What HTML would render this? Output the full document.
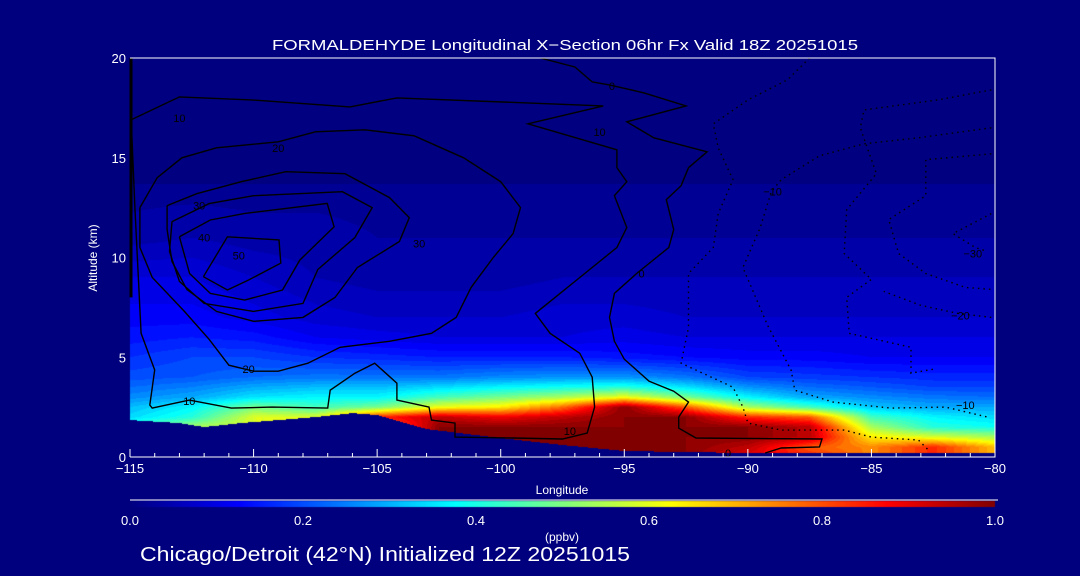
<!DOCTYPE html>
<html><head><meta charset="utf-8">
<style>
html,body{margin:0;padding:0;background:#00007f;}
#wrap{position:relative;width:1080px;height:576px;background:#00007f;overflow:hidden;font-family:"Liberation Sans",sans-serif;}
canvas,svg{position:absolute;left:0;top:0;}
</style></head>
<body>
<div id="wrap">
<canvas id="cv" width="1080" height="576"></canvas>
<svg id="sv" width="1080" height="576"></svg>
</div>
<script>
// ---- data ----
const gridLons = [-115,-112.5,-110,-107.5,-105,-102.5,-100,-97.5,-95,-92.5,-90,-87.5,-85,-82.5,-80];
const gridAlts = [0,0.5,1,1.5,2,2.5,3,3.5,4,5,6,7,9,11,13.5,14,20];
const row0   = [0.5,0.5,0.5,0.5,0.5,0.8,1,1,1,1,0.9,0.85,0.75,0.85,0.7];
const row0_5 = [0.5,0.5,0.5,0.5,0.5,0.9,1,1,1,1,0.95,0.8,0.75,0.85,0.7];
const row1   = [0.5,0.5,0.5,0.5,0.6,1,1,1,1,1,1,0.95,0.65,0.6,0.55];
const row1_5 = [0.45,0.55,0.6,0.6,0.7,1,1,1,1,1,1,0.95,0.55,0.42,0.4];
const row2   = [0.35,0.42,0.6,0.6,0.85,0.95,0.9,0.95,1,1,0.85,0.8,0.45,0.38,0.35];
const row2_5 = [0.32,0.38,0.5,0.45,0.5,0.62,0.65,0.78,1,0.8,0.55,0.45,0.33,0.3,0.3];
const row3   = [0.27,0.3,0.36,0.38,0.38,0.45,0.5,0.55,0.62,0.5,0.38,0.3,0.27,0.25,0.24];
const row3_5 = [0.24,0.26,0.3,0.32,0.32,0.35,0.38,0.4,0.42,0.36,0.28,0.24,0.22,0.2,0.2];
const row4   = [0.21,0.22,0.24,0.25,0.25,0.25,0.27,0.28,0.28,0.25,0.2,0.19,0.18,0.17,0.17];
const row5   = [0.18,0.2,0.2,0.18,0.17,0.16,0.16,0.16,0.15,0.14,0.13,0.13,0.12,0.12,0.12];
const row6   = [0.15,0.16,0.15,0.12,0.11,0.1,0.1,0.1,0.11,0.1,0.1,0.1,0.1,0.1,0.1];
const row7   = [0.13,0.13,0.11,0.09,0.08,0.08,0.08,0.09,0.09,0.08,0.08,0.08,0.08,0.08,0.08];
const row9   = [0.1,0.1,0.08,0.06,0.05,0.05,0.05,0.06,0.06,0.06,0.06,0.06,0.06,0.06,0.06];
const row11  = [0.05,0.06,0.05,0.05,0.04,0.04,0.04,0.04,0.04,0.04,0.04,0.04,0.04,0.04,0.04];
const row13_5= [0.03,0.03,0.03,0.03,0.03,0.03,0.03,0.03,0.03,0.03,0.03,0.03,0.03,0.03,0.03];
const row14  = [0,0,0,0,0,0,0,0,0,0,0,0,0,0,0];
const row20  = [0,0,0,0,0,0,0,0,0,0,0,0,0,0,0];
const gridRows = [row0,row0_5,row1,row1_5,row2,row2_5,row3,row3_5,row4,row5,row6,row7,row9,row11,row13_5,row14,row20];

const terrainLons = [-115,-113,-112,-110.5,-107.5,-106,-105,-103,-100,-97.5,-95,-90,-80];
const terrainAlts = [1.85,1.7,1.5,1.7,2.0,2.2,2.1,1.4,0.95,0.6,0.3,0.2,0.2];

const xTicks = [-115,-110,-105,-100,-95,-90,-85,-80];
const xTickLabels = ["\u2212115","\u2212110","\u2212105","\u2212100","\u221295","\u221290","\u221285","\u221280"];
const yTicks = [0,5,10,15,20];
const yTickLabels = ["0","5","10","15","20"];
const cbTicks = [0,0.2,0.4,0.6,0.8,1.0];
const cbTickLabels = ["0.0","0.2","0.4","0.6","0.8","1.0"];

const contour50 = [[-112.03,9.04],[-111.06,11.04],[-108.97,10.88],[-108.9,9.72],[-110.2,8.87],[-111.06,8.37],[-112.03,9.04]];
const contour40 = [[-113.0,11.04],[-111.75,11.88],[-110.36,12.21],[-107.02,12.71],[-106.74,11.54],[-108.13,9.87],[-108.83,8.37],[-110.36,7.87],[-111.75,8.2],[-112.59,9.2],[-113.0,11.04]];
const contour35 = [[-113.3,11.8],[-111.8,12.7],[-110.0,13.1],[-106.4,13.3],[-105.2,12.5],[-105.9,11.0],[-107.4,9.4],[-108.0,7.7],[-110.0,7.3],[-112.0,7.7],[-113.0,8.8],[-113.4,10.3],[-113.3,11.8]];
const contour30 = [[-113.5,12.6],[-112.3,13.2],[-110.5,13.8],[-108.7,14.3],[-106.3,14.2],[-104.5,13.0],[-103.7,12.0],[-104.1,10.8],[-105.8,9.5],[-106.7,8.0],[-108,7.0],[-110,6.8],[-111.5,7.3],[-112.7,8.4],[-113.3,9.8],[-113.5,11.4],[-113.5,12.6]];
const contour20 = [[-114.6,12.5],[-113.9,14.0],[-112.9,15.0],[-111.5,15.5],[-109.0,15.8],[-107.5,16.3],[-105.5,16.4],[-103.5,16.1],[-101.5,15.0],[-100.0,13.8],[-99.2,12.5],[-99.5,11.2],[-100.3,10.0],[-101.2,8.5],[-101.8,7.0],[-102.8,6.2],[-104.5,5.8],[-106.5,5.5],[-107.8,4.7],[-109.0,4.3],[-110.0,4.3],[-111.0,4.6],[-111.8,5.9],[-112.8,7.3],[-114.1,9.0],[-114.6,10.5],[-114.6,12.5]];
const contour10 = [[-114.95,16.9],[-113.0,18.05],[-110.1,17.9],[-106.1,17.55],[-104.2,18.0],[-95.85,17.6],[-98.9,16.7],[-95.3,15.4],[-95.3,14.5],[-94.9,13.8],[-95.4,13.1],[-94.9,11.5],[-95.3,10.5],[-96.5,9.3],[-98.6,7.2],[-98.0,6.2],[-96.8,5.2],[-96.3,4.0],[-96.2,2.5],[-96.5,1.2],[-97.5,0.9],[-99.5,0.95],[-101.85,1.0],[-101.85,1.7],[-102.8,1.85],[-102.9,2.5],[-104.2,2.85],[-104.2,3.7],[-105.1,4.7],[-105.9,4.2],[-106.9,3.35],[-107.0,2.45],[-109.25,2.5],[-110.9,2.45],[-112.6,2.85],[-114.1,2.45],[-114.2,2.6],[-114.0,4.36],[-114.55,6.2],[-114.8,12.5],[-114.95,16.9]];
const contour0 = [[-98.4,20],[-97.0,19.55],[-96.3,18.8],[-95.6,18.65],[-94.2,18.25],[-92.5,17.6],[-94.9,16.8],[-93.8,16.0],[-91.65,15.3],[-92.4,14.5],[-92.7,13.6],[-93.3,12.9],[-93.0,11.4],[-93.2,10.5],[-94.5,9.2],[-95.4,8.2],[-95.6,7.0],[-95.4,5.8],[-95.0,4.9],[-94.0,3.8],[-93.0,3.3],[-92.4,2.75],[-92.8,2.0],[-92.8,1.45],[-92.1,0.95],[-87.0,0.9],[-87.1,0.5],[-88.65,0.45],[-89.3,0.2]];
const dottedA = [[-87.5,20],[-88.4,18.9],[-90.0,17.9],[-91.4,16.7],[-91.2,15.5],[-90.6,13.9],[-91.2,12.2],[-91.4,10.5],[-92.4,9.2],[-92.4,6.5],[-92.7,4.7],[-90.6,3.5],[-90.2,2.5],[-90.0,1.7],[-88.65,1.35],[-86.1,1.35],[-85.0,1.0],[-83.1,0.85],[-82.7,0.35]];
const dottedB = [[-80.15,16.5],[-83.1,16.0],[-85.3,15.7],[-87.1,15.1],[-88.65,13.9],[-89.05,13.3],[-89.5,11.5],[-90.2,9.5],[-89.2,6.6],[-88.25,4.35],[-88.1,3.35],[-86.55,2.75],[-84.2,2.45],[-82.0,2.5],[-80.3,2.0]];
const dottedC = [[-80.15,18.4],[-82.3,17.9],[-85.3,17.4],[-85.45,16.5],[-84.8,14.2],[-86.0,12.4],[-86.1,10.2],[-85.0,8.9],[-86.0,8.0],[-85.9,6.2],[-83.4,5.5],[-83.4,4.2],[-82.5,4.4]];
const dottedD = [[-80.15,15.2],[-82.8,14.9],[-82.8,13.1],[-84.3,11.9],[-83.9,10.2],[-82.8,9.2],[-81.2,8.5],[-80.15,8.4]];
const dottedE = [[-80.15,12.2],[-81.7,11.2],[-80.8,10.5],[-80.3,10.3]];
const dottedF = [[-80.15,7.0],[-81.5,7.2],[-83.0,7.6],[-84.5,8.3]];

const contourLabels = [["50",-110.6,10.1],["40",-112.0,11.0],["30",-112.2,12.6],["30",-103.3,10.7],["20",-109.0,15.5],["20",-110.2,4.4],["10",-113.0,17.0],["10",-96.0,16.3],["10",-112.6,2.8],["10",-97.2,1.3],["0",-95.5,18.6],["0",-94.3,9.2],["0",-90.8,0.2],["\u221210",-89.0,13.3],["\u221210",-81.2,2.6],["\u221220",-81.4,7.1],["\u221230",-80.9,10.2]];

// ---- axes ----
const PL=130, PR=995, PT=58, PB=457;
const LON0=-115, LON1=-80, ALT0=0, ALT1=20;
function xs(lon){return PL+(lon-LON0)/(LON1-LON0)*(PR-PL);}
function ys(alt){return PB-(alt-ALT0)/(ALT1-ALT0)*(PB-PT);}
function cbx(v){return 130+v*(995-130);}

function jet(v){
  const c=t=>Math.max(0,Math.min(1,t));
  return [c(1.5-Math.abs(4*v-3))*255, c(1.5-Math.abs(4*v-2))*255, c(1.5-Math.abs(4*v-1))*255];
}
function interp1(xa,ya,x){
  if(x<=xa[0])return ya[0];
  for(let i=0;i<xa.length-1;i++){ if(x<=xa[i+1]){const t=(x-xa[i])/(xa[i+1]-xa[i]);return ya[i]+t*(ya[i+1]-ya[i]);} }
  return ya[ya.length-1];
}
function findIdx(arr,v){
  for(let i=0;i<arr.length-1;i++){ if(v<=arr[i+1]) return [i,(v-arr[i])/(arr[i+1]-arr[i])]; }
  return [arr.length-2,1];
}
function field(lon,alt){
  const [ci,ct]=findIdx(gridLons,lon), [ri,rt]=findIdx(gridAlts,alt);
  const a=gridRows[ri][ci], b=gridRows[ri][ci+1], c=gridRows[ri+1][ci], d=gridRows[ri+1][ci+1];
  return (a*(1-ct)+b*ct)*(1-rt)+(c*(1-ct)+d*ct)*rt;
}

// ---- heatmap ----
const cv=document.getElementById('cv'), ctx=cv.getContext('2d');
ctx.fillStyle='#00007f'; ctx.fillRect(0,0,1080,576);
const img=ctx.getImageData(PL,PT,PR-PL,PB-PT);
for(let py=0;py<PB-PT;py++){
  const alt=ALT1-(py+0.5)/(PB-PT)*(ALT1-ALT0);
  for(let px=0;px<PR-PL;px++){
    const lon=LON0+(px+0.5)/(PR-PL)*(LON1-LON0);
    let v=0;
    if(alt>interp1(terrainLons,terrainAlts,lon)){ v=Math.floor(field(lon,alt)*50)/50; }
    const col=jet(Math.min(1,Math.max(0,v)));
    const k=(py*(PR-PL)+px)*4;
    img.data[k]=col[0];img.data[k+1]=col[1];img.data[k+2]=col[2];img.data[k+3]=255;
  }
}
ctx.putImageData(img,PL,PT);
// colorbar
for(let x=130;x<995;x++){
  const col=jet((x-130)/(995-130));
  ctx.fillStyle='rgb('+col.map(Math.round).join(',')+')';
  ctx.fillRect(x,501,1,6);
}

// ---- svg overlay ----
const NS='http://www.w3.org/2000/svg', sv=document.getElementById('sv');
function mk(tag,attrs,parent){const e=document.createElementNS(NS,tag);for(const k in attrs)e.setAttribute(k,attrs[k]);(parent||sv).appendChild(e);return e;}
function txt(s,x,y,attrs,name){const t=mk('text',Object.assign({x:x,y:y,fill:'#fff','font-family':'Liberation Sans, sans-serif'},attrs));t.textContent=s;


return t;}

const contourGroup=mk('g',{});


const solids=[contour50,contour40,contour35,contour30,contour20,contour10,contour0];
const dotted=[dottedA,dottedB,dottedC,dottedD,dottedE,dottedF];
solids.forEach((c,i)=>{
  const p=mk('polyline',{points:c.map(q=>xs(q[0]).toFixed(1)+','+ys(q[1]).toFixed(1)).join(' '),fill:'none',stroke:'#000','stroke-width':1.4},contourGroup);
  
  
});
dotted.forEach((c,i)=>{
  const p=mk('polyline',{points:c.map(q=>xs(q[0]).toFixed(1)+','+ys(q[1]).toFixed(1)).join(' '),fill:'none',stroke:'#000','stroke-width':1.4,'stroke-dasharray':'1.5,4'},contourGroup);
  
  
});
contourLabels.forEach(l=>{
  const t=mk('text',{x:xs(l[1]),y:ys(l[2])+4,fill:'#000','font-size':11,'font-family':'Liberation Sans, sans-serif','text-anchor':'middle'},contourGroup);
  t.textContent=l[0];
  
  
});
const edge=mk('line',{x1:PL+1,y1:ys(20),x2:PL+1,y2:ys(8),stroke:'#000','stroke-width':3});



// frame
const frame=mk('path',{d:`M${PL},${PT}H${PR}V${PB}H${PL}`,fill:'none',stroke:'#fff','stroke-width':1});


for(let lon=-115;lon<=-80;lon++){
  const major=(lon%5===0);
  const t=mk('line',{x1:xs(lon),x2:xs(lon),y1:PB,y2:PB-(major?8:4),stroke:'#fff','stroke-width':1});
  
  
}
xTicks.forEach((v,i)=>txt(xTickLabels[i],xs(v),473,{'font-size':13,'text-anchor':'middle'},'x-tick-label'));
yTicks.forEach((v,i)=>txt(yTickLabels[i],126,ys(v)+5,{'font-size':13,'text-anchor':'end'},'y-tick-label'));
txt('Longitude',562,494,{'font-size':12,'text-anchor':'middle'},'x-axis-title');
txt('Altitude (km)',0,0,{'font-size':12,'text-anchor':'middle',transform:'translate(97,258) rotate(-90)'},'y-axis-title');
txt('FORMALDEHYDE Longitudinal X\u2212Section 06hr  Fx Valid 18Z 20251015',272,50,{'font-size':15,textLength:586,lengthAdjust:'spacingAndGlyphs','xml:space':'preserve'},'chart-title');
const cbl=mk('line',{x1:130,x2:998,y1:500,y2:500,stroke:'#fff','stroke-width':1});


cbTicks.forEach((v,i)=>txt(cbTickLabels[i],cbx(v),525,{'font-size':13,'text-anchor':'middle'},'colorbar-tick-label'));
txt('(ppbv)',562,541,{'font-size':12,'text-anchor':'middle'},'colorbar-units');
txt('Chicago/Detroit (42\u00b0N) Initialized 12Z 20251015',140,561,{'font-size':20,textLength:490,lengthAdjust:'spacingAndGlyphs'},'subtitle');
</script>
</body></html>
